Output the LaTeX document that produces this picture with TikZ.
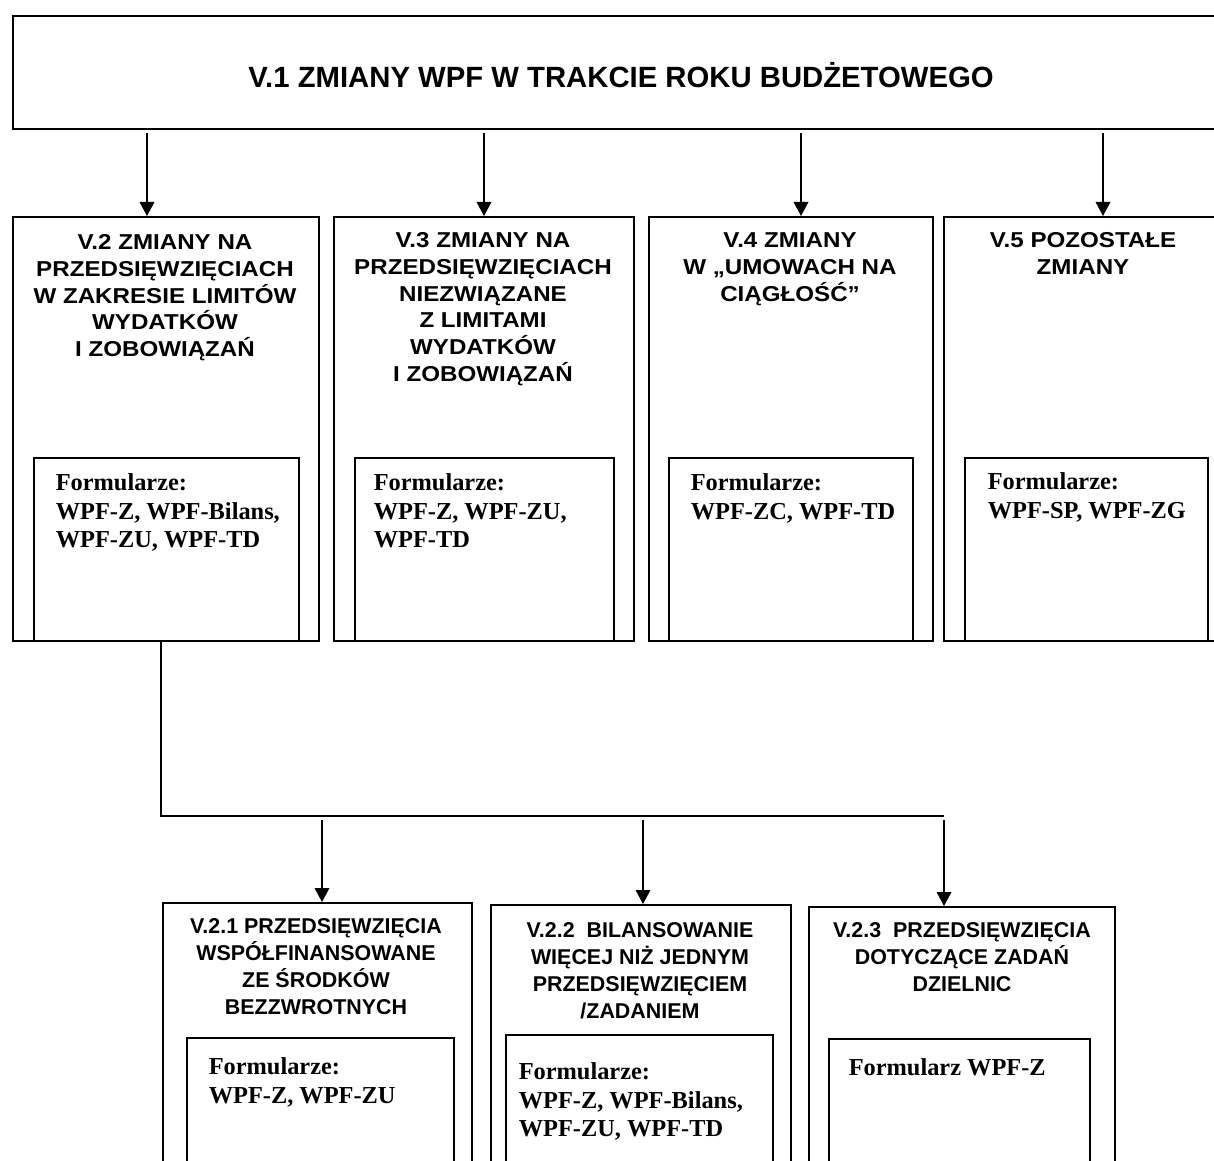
\documentclass[tikz,border=0pt]{standalone}
\usepackage{fontspec}
\usetikzlibrary{arrows.meta}
\setmainfont{Liberation Serif}
\setsansfont{Liberation Sans}
\newfontfamily\headfont[FakeStretch=1.12]{Liberation Sans}
\def\unit{0.03cm}

\begin{document}
\begin{tikzpicture}[x=\unit,y=-\unit,line width=1.3pt,>={Triangle[width=0.44cm,length=0.42cm]}]
    \tikzstyle{box}=[draw,rectangle,inner sep=0pt,anchor=north west]
    \tikzstyle{title}=[font=\sffamily\bfseries\fontsize{25}{30}\selectfont,inner sep=0pt,anchor=base]
    \tikzstyle{head}=[font=\headfont\bfseries\fontsize{18.4}{22.8}\selectfont,align=center,anchor=north,inner sep=0pt]
    \tikzstyle{subhead}=[font=\sffamily\bfseries\fontsize{18.3}{23}\selectfont,align=center,anchor=north,inner sep=0pt]
    \tikzstyle{forms}=[font=\rmfamily\bfseries\fontsize{20.8}{24.2}\selectfont,align=left,anchor=north west,inner sep=0pt]
    \tikzstyle{arrow}=[->,line width=1.1pt,shorten <=3pt]

    \useasboundingbox (0,0) rectangle (1214,1161);
    \clip (0,0) rectangle (1214,1161);

    % top box
    \node[box,minimum width=1218*\unit,minimum height=113*\unit] (T) at (12,15) {};
    \node[title] (T-text) at (621,88) {V.1 ZMIANY WPF W TRAKCIE ROKU BUDŻETOWEGO};

    % first row
    \foreach \name/\x/\w in {V2/12/306, V3/333/300, V4/648/284, V5/943/287}
        \node[box,minimum width=\w*\unit,minimum height=424*\unit] (\name) at (\x,216) {};
    \foreach \name/\x/\w in {F2/33/265, F3/354/259, F4/668/244, F5/964/243}
        \node[box,minimum width=\w*\unit,minimum height=183*\unit] (\name) at (\x,457) {};

    \node[head] (H2) at (165,234) {V.2 ZMIANY NA\\PRZEDSIĘWZIĘCIACH\\W ZAKRESIE LIMITÓW\\WYDATKÓW\\I ZOBOWIĄZAŃ};
    \node[head] (H3) at (483,232) {V.3 ZMIANY NA\\PRZEDSIĘWZIĘCIACH\\NIEZWIĄZANE\\Z LIMITAMI\\WYDATKÓW\\I ZOBOWIĄZAŃ};
    \node[head] (H4) at (790,232) {V.4 ZMIANY\\W „UMOWACH NA\\CIĄGŁOŚĆ”};
    \node[head] (H5) at (1083,232) {V.5 POZOSTAŁE\\ZMIANY};

    \node[forms] (L2) at (55,473) {Formularze:\\WPF-Z, WPF-Bilans,\\WPF-ZU, WPF-TD};
    \node[forms] (L3) at (373,473) {Formularze:\\WPF-Z, WPF-ZU,\\WPF-TD};
    \node[forms] (L4) at (690,473) {Formularze:\\WPF-ZC, WPF-TD};
    \node[forms] (L5) at (987,472) {Formularze:\\WPF-SP, WPF-ZG};

    % second row
    \node[box,minimum width=309*\unit,minimum height=308*\unit] (V21) at (162,902) {};
    \node[box,minimum width=300*\unit,minimum height=306*\unit] (V22) at (490,904) {};
    \node[box,minimum width=306*\unit,minimum height=304*\unit] (V23) at (808,906) {};
    \node[box,minimum width=267*\unit,minimum height=173*\unit] (F21) at (186,1037) {};
    \node[box,minimum width=267*\unit,minimum height=176*\unit] (F22) at (505,1034) {};
    \node[box,minimum width=261*\unit,minimum height=172*\unit] (F23) at (828,1038) {};

    \node[subhead] (H21) at (316,918) {V.2.1 PRZEDSIĘWZIĘCIA\\WSPÓŁFINANSOWANE\\ZE ŚRODKÓW\\BEZZWROTNYCH};
    \node[subhead] (H22) at (640,922) {V.2.2~ BILANSOWANIE\\WIĘCEJ NIŻ JEDNYM\\PRZEDSIĘWZIĘCIEM\\/ZADANIEM};
    \node[subhead] (H23) at (962,922) {V.2.3~ PRZEDSIĘWZIĘCIA\\DOTYCZĄCE ZADAŃ\\DZIELNIC};

    \node[forms] (L21) at (208,1057) {Formularze:\\WPF-Z, WPF-ZU};
    \node[forms] (L22) at (518,1062) {Formularze:\\WPF-Z, WPF-Bilans,\\WPF-ZU, WPF-TD};
    \node[forms] (L23) at (848,1058) {Formularz WPF-Z};

    % arrows from the top box
    \foreach \dest/\x in {V2/147, V3/484, V4/801, V5/1103} {
        \coordinate (A\dest) at (\x,0);
        \draw[arrow] (T.south -| A\dest) -- (\dest.north -| A\dest);
    }

    % branch below V.2
    \coordinate (J0) at (161,816);
    \coordinate (J1) at (322,816);
    \coordinate (J2) at (643,816);
    \coordinate (J3) at (944,816);
    \draw[line width=1.1pt] (V2.south -| J0) -- (J0) -- (J3);
    \draw[arrow] (J1) -- (V21.north -| J1);
    \draw[arrow] (J2) -- (V22.north -| J2);
    \draw[arrow] (J3) -- (V23.north -| J3);
\end{tikzpicture}
\end{document}
